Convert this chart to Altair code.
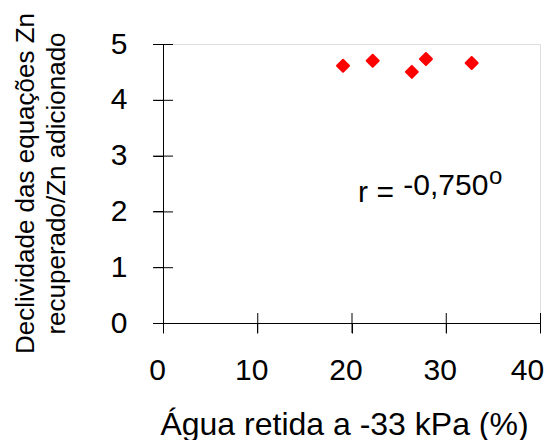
import altair as alt
import pandas as pd

# data
agua = [19.1, 22.25, 26.4, 27.9, 32.75]
declividade = [4.61, 4.70, 4.50, 4.73, 4.66]
x_ticks = [0, 10, 20, 30, 40]
y_ticks = [0, 1, 2, 3, 4, 5]
y_title = ["Declividade das equações Zn", "recuperado/Zn adicionado"]
x_title = "Água retida a -33 kPa (%)"

FONT = "Liberation Sans"

pts = pd.DataFrame({"x": agua, "y": declividade})
xt = pd.DataFrame({"x": x_ticks, "y": [0] * len(x_ticks)})
yt = pd.DataFrame({"x": [0] * len(y_ticks), "y": y_ticks})
ann = pd.DataFrame({
    "x": [20.7, 25.5, 34.6],
    "y": [2.17, 2.29, 2.50],
    "t": ["r =", "-0,750", "o"],
    "s": [30, 30, 24],
})

xscale = alt.Scale(domain=[0, 40], nice=False, zero=False)
yscale = alt.Scale(domain=[0, 5], nice=False, zero=False)

xaxis = alt.Axis(
    values=x_ticks, title=x_title, grid=False,
    tickSize=10, tickColor="black", domainColor="black",
    labelFont=FONT, labelFontSize=30, labelColor="black",
    labelPadding=22, labelFlush=False,
    labelOffset={"condition": {"test": "datum.value >= 40", "value": -13}, "value": -6},
    titleFont=FONT, titleFontSize=32, titleFontWeight="normal", titleColor="black",
    titleX=181, titleY=111, titleBaseline="alphabetic", titleAlign="center",
)
yaxis = alt.Axis(
    values=y_ticks, title=y_title, grid=False,
    tickSize=10, tickColor="black", domainColor="black",
    labelFont=FONT, labelFontSize=30, labelColor="black",
    labelPadding=26, labelFlush=False,
    titleFont=FONT, titleFontSize=26, titleFontWeight="normal", titleColor="black",
    titleAngle=270, titleX=-130, titleY=139, titleBaseline="alphabetic",
    titleAlign="center", titleLineHeight=31,
)

points = alt.Chart(pts).mark_point(
    shape="diamond", filled=True, color="#ff0000", size=144,
    stroke="#ff0000", strokeWidth=2, strokeJoin="round", opacity=1,
).encode(
    x=alt.X("x:Q", scale=xscale, axis=xaxis),
    y=alt.Y("y:Q", scale=yscale, axis=yaxis),
)

xtick_marks = alt.Chart(xt).mark_tick(
    orient="vertical", size=20, thickness=1, color="black", xOffset=0.5, opacity=1
).encode(x="x:Q", y="y:Q")

ytick_marks = alt.Chart(yt).mark_tick(
    orient="horizontal", size=20, thickness=1, color="black", yOffset=0.5, opacity=1
).encode(x="x:Q", y="y:Q")

texts = alt.Chart(ann).mark_text(
    align="left", baseline="alphabetic", font=FONT, color="black"
).encode(
    x="x:Q", y="y:Q", text="t:N", size=alt.Size("s:Q", scale=None, legend=None)
)

chart = alt.layer(points, xtick_marks, ytick_marks, texts).properties(
    width=377, height=279,
    padding={"left": 155, "top": 36, "right": 6, "bottom": 117},
    autosize=alt.AutoSizeParams(type="none"),
).configure_view(stroke=None).configure(background="white")

chart.save("out.html", embed_options={"renderer": "svg", "actions": False})
